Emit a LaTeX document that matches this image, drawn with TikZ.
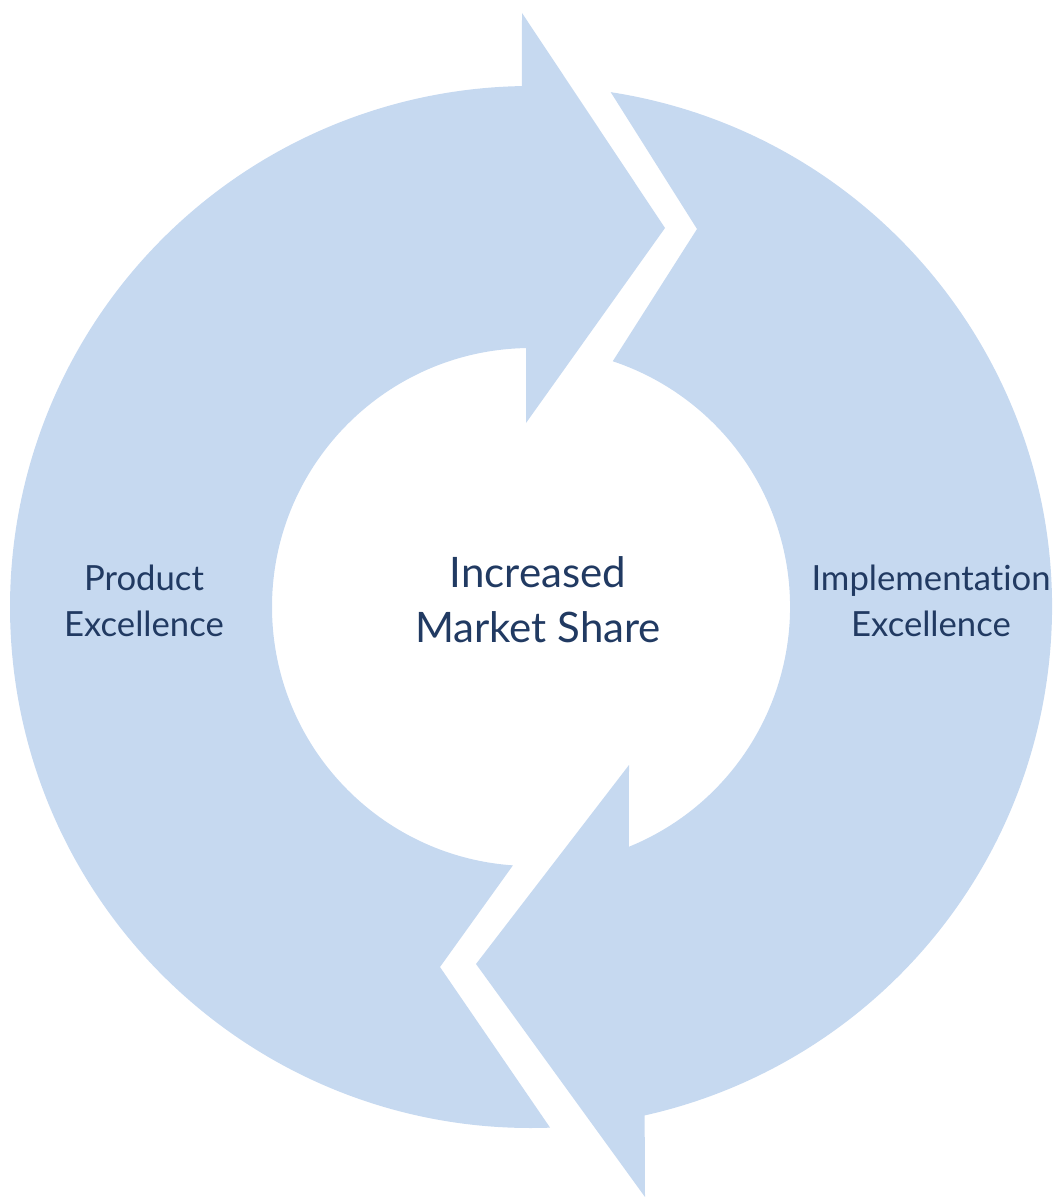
\documentclass[tikz,border=0pt]{standalone}
\usepackage{fontspec}
\setmainfont{Lato}[Ligatures=NoCommon]
\definecolor{ringblue}{RGB}{198,217,240}
\definecolor{labelnavy}{RGB}{33,58,98}
\begin{document}
\begin{tikzpicture}[x=0.75pt,y=-0.75pt,
  ring/.style={fill=ringblue},
  sidelabel/.style={anchor=south,inner sep=0pt,align=center,text=labelnavy,font=\fontsize{26}{34.5}\selectfont},
  centrelabel/.style={anchor=south,inner sep=0pt,align=center,text=labelnavy,font=\fontsize{31.5}{41.25}\selectfont}]
\useasboundingbox (0,0) rectangle (1057,1201);
\coordinate (C) at (531,607);
% left arrow (Product Excellence), pointing up and right
\fill[ring] ([shift={(87.9:521)}]C) arc[start angle=87.9, end angle=269, radius=521]
  -- (522,13) -- (665,228) -- (526,423)
  -- ([shift={(268.9:259)}]C) arc[start angle=268.9, end angle=94, radius=259]
  -- (440,967) -- cycle;
% right arrow (Implementation Excellence), pointing down and left
\fill[ring] ([shift={(278.8:521)}]C) arc[start angle=278.8, end angle=437.4, radius=521]
  -- (645,1197) -- (476,964) -- (629,765)
  -- ([shift={(427.8:259)}]C) arc[start angle=427.8, end angle=288.4, radius=259]
  -- (697,229) -- cycle;
\node[sidelabel] (prod) at (144,637) {Product\\Excellence};
\node[centrelabel] (share) at (538,643) {Increased\\Market Share};
\node[sidelabel] (impl) at (931,637) {Implementation\\Excellence};
\end{tikzpicture}
\end{document}
